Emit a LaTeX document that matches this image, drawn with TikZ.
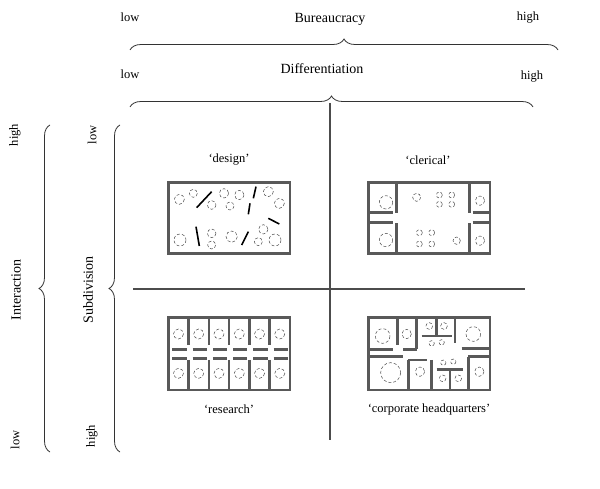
\documentclass[tikz,border=0pt]{standalone}
\usepackage{fontspec}
\setmainfont{Liberation Serif}
\usetikzlibrary{decorations.pathreplacing}
\begin{document}
\begin{tikzpicture}[x=1pt,y=-1pt,
  wall/.style={draw=black!65,line width=2.4pt},
  seat/.style={draw=black!70,densely dashed,line width=0.5pt},
  bar/.style={draw=black,line width=1.6pt},
  axis/.style={draw=black!70,line width=2pt},
  br/.style={draw=black!80,line width=0.8pt,decorate,decoration={brace,amplitude=11pt}},
  lab/.style={font=\fontsize{14}{16}\selectfont},
  sm/.style={font=\fontsize{12.5}{14}\selectfont}]
\path[use as bounding box] (0,0) rectangle (600,489);
% top labels and braces
\node[sm] (bl) at (130,17) {low};
\node[sm] (bh) at (528,18) {high};
\node[lab] (bt) at (330,19) {Bureaucracy};
\draw[br] (130,50) -- (558,50);
\node[sm] (dl) at (130,74) {low};
\node[sm] (dh) at (532,77) {high};
\node[lab] (dt) at (322,69) {Differentiation};
\draw[br] (130,107) -- (533,107);
% left labels and braces
\node[sm,rotate=90] (il) at (15,135) {high};
\node[lab,rotate=90] (it) at (16,290) {Interaction};
\node[sm,rotate=90] (ih) at (15,440) {low};
\draw[br] (50,452) -- (50,125);
\node[sm,rotate=90] (sl) at (92,135) {low};
\node[lab,rotate=90] (st) at (88,290) {Subdivision};
\node[sm,rotate=90] (sh) at (92,436) {high};
\draw[br] (120,452) -- (120,125);
% axes
\draw[axis] (330,103) -- (330,440);
\draw[axis] (133,289) -- (525,289);
% titles
\node[sm] (t1) at (229,160) {‘design’};
\node[sm] (t2) at (428,160) {‘clerical’};
\node[sm] (t3) at (229,409) {‘research’};
\node[sm] (t4) at (429,409) {‘corporate headquarters’};
% design
\begin{scope}[shift={(150,170)},scale=1/3]
\draw[wall] (55,38) rectangle (420,250);
\foreach \x/\y/\r in {88/88/15,130/70/12,222/70/14,268/75/14,185/105/13,240/108/12,355/65/15,388/100/15,90/210/18,185/190/13,185/225/12,245/200/17,340/178/14,325/215/12,375/210/18}
  \draw[seat] (\x,\y) circle (\r);
\draw[bar] (140,113)--(185,65);
\draw[bar] (318,50)--(310,85);
\draw[bar] (300,100)--(295,133);
\draw[bar] (355,145)--(388,162);
\draw[bar] (138,170)--(148,228);
\draw[bar] (275,225)--(295,185);
\end{scope}
% clerical
\begin{scope}[shift={(150,170)},scale=1/3]
\draw[wall] (655,38) rectangle (1020,250);
\draw[wall] (740,38)--(740,128) (740,160)--(740,250);
\draw[wall] (958,38)--(958,128) (958,160)--(958,250);
\draw[wall] (655,128)--(730,128) (655,158)--(730,158);
\draw[wall] (968,128)--(1020,128) (968,158)--(1020,158);
\foreach \x/\y/\r in {708/97/20,708/210/20,800/82/12,868/75/9,905/75/9,868/103/9,905/103/9,808/188/9,845/188/9,808/222/9,845/222/9,920/212/11,990/92/14,990/212/14}
  \draw[seat] (\x,\y) circle (\r);
\end{scope}
% research
\begin{scope}[shift={(150,310)},scale=1/3]
\draw[wall] (55,22) rectangle (420,240);
\foreach \i in {1,...,5}{
  \pgfmathsetmacro\xx{55+\i*60.8}
  \draw[wall] (\xx,22)--(\xx,105) (\xx,150)--(\xx,240);
}
\foreach \i in {0,...,5}{
  \pgfmathsetmacro\xa{55+\i*60.8+12}
  \pgfmathsetmacro\xb{55+\i*60.8+55}
  \draw[wall] (\xa,118)--(\xb,118) (\xa,145)--(\xb,145);
  \pgfmathsetmacro\xc{55+\i*60.8+30.4}
  \draw[seat] (\xc,72) circle (15);
  \draw[seat] (\xc,190) circle (15);
}
\end{scope}
% headquarters
\begin{scope}[shift={(150,310)},scale=1/3]
\draw[wall] (655,22) rectangle (1020,240);
\draw[wall] (655,118)--(730,118) (742,22)--(742,105);
\draw[wall] (655,140)--(760,140);
\draw[wall] (800,22)--(800,118) (760,118)--(800,118);
\draw[wall] (775,150)--(775,240) (775,150)--(830,150) (845,150)--(845,240);
\draw[wall] (815,78)--(905,78) (860,22)--(860,78);
\draw[wall] (915,22)--(915,100) (935,115)--(1020,115);
\draw[wall] (955,140)--(1020,140) (955,140)--(955,240);
\draw[wall] (860,178)--(940,178) (900,178)--(900,240);
\foreach \x/\y/\r in {698/78/22,770/72/14,838/48/10,882/48/10,845/100/8,875/97/8,970/72/22,722/188/30,810/185/14,880/158/8,910/155/8,878/205/10,925/205/10,988/185/14}
  \draw[seat] (\x,\y) circle (\r);
\end{scope}
\end{tikzpicture}
\end{document}
